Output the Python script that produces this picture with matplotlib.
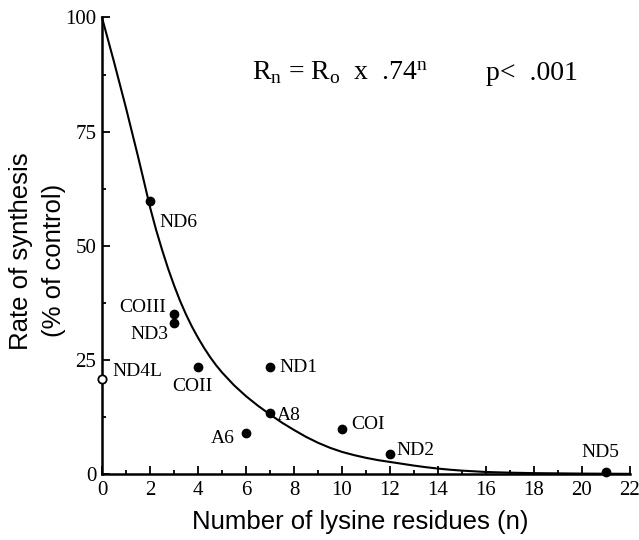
import matplotlib
matplotlib.use("Agg")
import matplotlib.pyplot as plt
from matplotlib.ticker import MultipleLocator

plt.rcParams['mathtext.fontset'] = 'custom'
plt.rcParams['mathtext.rm'] = 'Liberation Serif'
plt.rcParams['mathtext.it'] = 'Liberation Serif'

SERIF = 'Liberation Serif'
SANS = 'Liberation Sans'

# measured proteins: lysine count vs synthesis rate (% of control)
genes = ['ND6', 'COIII', 'ND3', 'COII', 'ND1', 'A8', 'A6', 'COI', 'ND2', 'ND5']
lysines = [2, 3, 3, 4, 7, 7, 6, 10, 12, 21]
rates = [59.8, 35.1, 33.1, 23.5, 23.5, 13.4, 9.0, 9.9, 4.4, 0.5]

# ND4L has no lysines, drawn as open circle
open_gene = 'ND4L'
open_lys = [0]
open_rate = [20.9]

# fitted curve (R_n = R_o x .74^n)
curve_n = [0, 0.5, 1.0, 1.5, 1.75, 2.0, 2.25, 2.5, 2.75, 3.0, 3.25, 3.5,
           3.75, 4.0, 4.25, 4.5, 4.75, 5.0, 5.5, 6.0, 6.5, 7.0, 7.5, 8.0,
           8.5, 9.0, 9.5, 10.0, 10.5, 11.0, 11.5, 12.0, 12.5, 13.0, 13.5,
           14.0, 14.5, 15.0, 16.0, 17.0, 18.0, 20.0, 22.0]
curve_r = [100, 90.3, 80.2, 69.6, 64.1, 58.5, 53.6, 49.2, 45.1, 41.4, 38.0,
           35.0, 32.3, 29.9, 27.7, 25.7, 23.9, 22.3, 19.5, 17.1, 15.0, 13.1,
           11.3, 9.7, 8.2, 6.9, 5.8, 4.9, 4.2, 3.6, 3.1, 2.7, 2.3, 1.9, 1.55,
           1.25, 1.0, 0.8, 0.5, 0.35, 0.25, 0.15, 0.1]

# label anchor (x, y, ha) per gene
label_pos = {
    'ND6': (2.40, 55.2, 'left'),
    'COIII': (2.69, 36.6, 'right'),
    'ND3': (2.77, 30.5, 'right'),
    'COII': (2.93, 19.3, 'left'),
    'ND1': (7.40, 23.3, 'left'),
    'A8': (7.27, 12.8, 'left'),
    'A6': (5.54, 7.9, 'right'),
    'COI': (10.37, 11.0, 'left'),
    'ND2': (12.27, 5.3, 'left'),
    'ND5': (20.76, 4.7, 'center'),
    'ND4L': (0.45, 22.4, 'left'),
}

fig = plt.figure(figsize=(6.39, 5.40), dpi=100)
ax = fig.add_axes([0.1596, 0.1217, 0.8263, 0.8459])

ax.plot(curve_n, curve_r, color='black', lw=1.5, clip_on=False,
        solid_joinstyle='round')

ax.plot(lysines, rates, 'o', color='black', ms=6, clip_on=False, zorder=5)
ax.plot(open_lys, open_rate, 'o', mfc='white', mec='black', mew=1.3,
        ms=6, clip_on=False, zorder=6)

for g in genes + [open_gene]:
    x, y, ha = label_pos[g]
    ax.text(x, y, g, ha=ha, va='center', fontsize=14, family=SERIF)

ax.text(6.25, 86.3, r'R$_\mathrm{n}$ = R$_\mathrm{o}$  x  .74$^\mathrm{n}$',
        fontsize=20, family=SERIF, ha='left', va='baseline')
ax.text(16.0, 86.3, 'p<  .001', fontsize=20, family=SERIF, ha='left',
        va='baseline')

ax.set_xlim(0, 22)
ax.set_ylim(0, 100)
ax.spines['top'].set_visible(False)
ax.spines['right'].set_visible(False)
ax.spines['left'].set_linewidth(1.8)
ax.spines['bottom'].set_linewidth(1.8)

ax.xaxis.set_major_locator(MultipleLocator(2))
ax.xaxis.set_minor_locator(MultipleLocator(1))
ax.yaxis.set_major_locator(MultipleLocator(25))
ax.yaxis.set_minor_locator(MultipleLocator(12.5))
ax.tick_params(which='both', direction='in', width=1.3)
ax.tick_params(which='major', length=5.5)
ax.tick_params(which='minor', length=3)
ax.tick_params(axis='x', which='major', pad=5)
ax.tick_params(axis='y', which='major', pad=4)
for lab in ax.get_xticklabels() + ax.get_yticklabels():
    lab.set_family(SERIF)
    lab.set_fontsize(15)

fig.text(0.5634, 0.033, 'Number of lysine residues (n)', ha='center',
         va='center', fontsize=18.5, family=SANS)
fig.text(0.033, 0.535, 'Rate of synthesis', rotation=90, ha='center',
         va='center', fontsize=18.5, family=SANS)
fig.text(0.085, 0.517, '(% of control)', rotation=90, ha='center',
         va='center', fontsize=18.5, family=SANS)

fig.savefig('out.png', dpi=100)
